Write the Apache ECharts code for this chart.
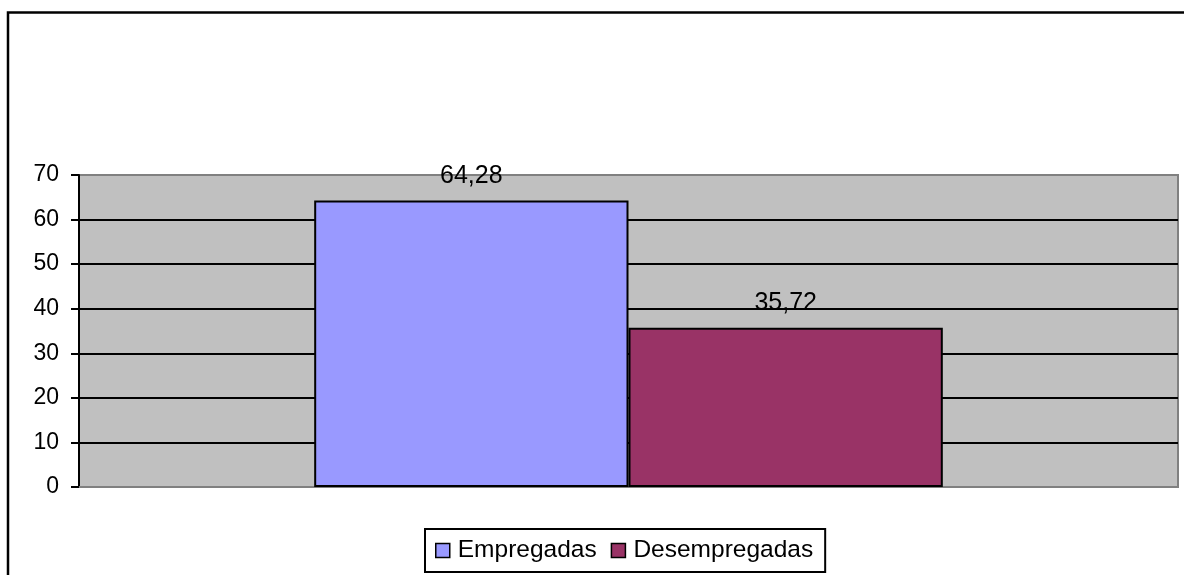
<!DOCTYPE html>
<html>
<head>
<meta charset="utf-8">
<script src="https://cdn.jsdelivr.net/npm/echarts@6/dist/echarts.min.js"></script>
<style>
  html, body { margin: 0; padding: 0; background: #fff; }
  #chart { width: 1184px; height: 575px; }
</style>
</head>
<body>
<div id="chart"></div>
<script>
// Employment split (percent)
const categories = [''];
const seriesNames = ['Empregadas', 'Desempregadas'];
const empregadas = [64.28];
const desempregadas = [35.72];
const yTicks = { min: 0, max: 70, interval: 10 };

const FONT = 'Liberation Sans, Arial, sans-serif';
const chart = echarts.init(document.getElementById('chart'), null, { renderer: 'canvas' });

function barSeries(name, values, color) {
  return {
    name: name,
    type: 'bar',
    data: values,
    barGap: '0%',
    barCategoryGap: '42.8%',
    itemStyle: { color: color, borderColor: '#000', borderWidth: 2 },
    label: {
      show: true,
      position: 'top',
      distance: 12,
      color: '#000',
      fontFamily: FONT,
      fontSize: 25,
      formatter: p => String(p.value).replace('.', ',')
    }
  };
}

chart.setOption({
  animation: false,
  backgroundColor: '#fff',
  grid: {
    left: 79, right: 6, top: 175, bottom: 88,
    show: true,
    backgroundColor: '#C0C0C0',
    borderColor: '#808080',
    borderWidth: 2
  },
  graphic: [{
    type: 'rect',
    shape: { x: 8, y: 12.5, width: 1300, height: 700 },
    style: { fill: 'none', stroke: '#000', lineWidth: 2.5 },
    silent: true
  }],
  legend: {
    data: seriesNames,
    left: 425,
    top: 529,
    padding: [9, 12, 9, 10],
    borderColor: '#000',
    borderWidth: 2,
    itemWidth: 14,
    itemHeight: 14,
    itemGap: 14,
    icon: 'rect',
    itemStyle: { borderColor: '#000', borderWidth: 1.5 },
    textStyle: { color: '#000', fontFamily: FONT, fontSize: 24.5, padding: [0, 0, 0, 3] }
  },
  xAxis: {
    type: 'category',
    data: categories,
    axisLine: { show: true, lineStyle: { color: '#808080', width: 2 } },
    axisTick: { show: false },
    axisLabel: { show: false },
    splitLine: { show: false }
  },
  yAxis: {
    type: 'value',
    min: yTicks.min,
    max: yTicks.max,
    interval: yTicks.interval,
    axisLine: { show: true, lineStyle: { color: '#000', width: 2 } },
    axisTick: { show: true, length: 8, lineStyle: { color: '#000', width: 2 } },
    axisLabel: { color: '#000', fontFamily: FONT, fontSize: 23, margin: 20 },
    splitLine: {
      show: true,
      lineStyle: {
        color: ['#808080', '#000', '#000', '#000', '#000', '#000', '#000', '#808080'],
        width: 2
      }
    }
  },
  series: [
    barSeries(seriesNames[0], empregadas, '#9999FF'),
    barSeries(seriesNames[1], desempregadas, '#993366')
  ]
});
</script>
</body>
</html>
